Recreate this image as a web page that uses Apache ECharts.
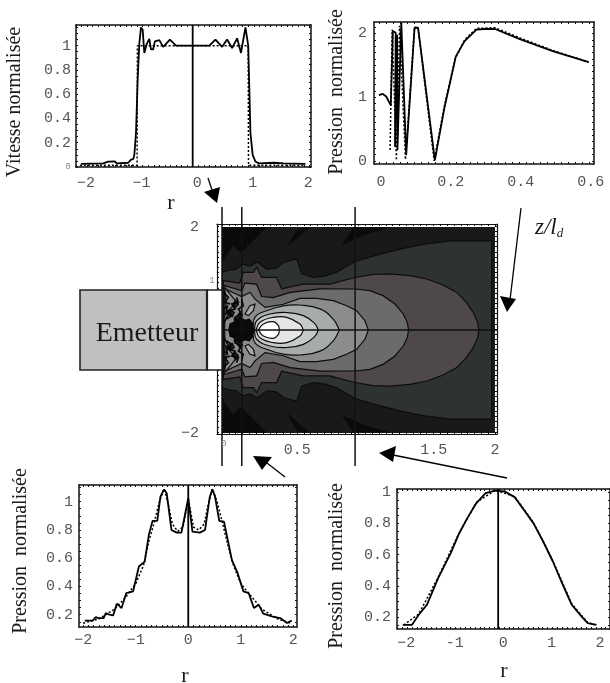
<!DOCTYPE html>
<html>
<head>
<meta charset="utf-8">
<style>html,body{margin:0;padding:0;background:#fff;overflow:hidden}#c{width:610px;height:683px}</style>
<script src="https://cdn.jsdelivr.net/npm/echarts@6/dist/echarts.min.js"></script>
</head>
<body>
<div id="c"></div>
<script>
// ---- Panel A: vitesse normalisée vs r
const velocitySolid=[[-2.01,.025],[-1.61,.03],[-1.52,.045],[-1.40,.047],[-1.37,.03],[-1.16,.035],[-1.11,.06],[-1.07,.065],[-1.05,.10],[-1.02,.28],[-.99,.72],[-.96,1.02],[-.93,1.15],[-.90,1.13],[-.87,.94],[-.83,1.01],[-.78,1.055],[-.75,.97],[-.71,.97],[-.68,1.035],[-.60,1.045],[-.53,.99],[-.41,1.05],[-.30,1],[.30,1],[.41,1.05],[.53,.99],[.62,1.05],[.71,.98],[.80,1.06],[.87,.94],[.95,1.15],[1.0,1.0],[1.04,.28],[1.08,.10],[1.13,.045],[1.19,.03],[1.46,.035],[1.49,.047],[1.64,.03],[2.03,.025]];
const velocityDotted=[[-2.03,.015],[-1.0,.015],[-.995,1],[1.0,1],[1.005,.015],[2.03,.015]];
// ---- Panel B: pression sur l'axe vs z
const axialSolid=[[0,1.03],[.011,1.05],[.021,1.01],[.034,.87],[.040,2.04],[.048,2.01],[.046,.22],[.052,1.98],[.053,.17],[.064,2.17],[.078,.09],[.102,2.09],[.112,2.09],[.160,.01],[.188,.85],[.220,1.64],[.245,1.88],[.279,2.06],[.303,2.07],[.332,2.07],[.403,1.91],[.499,1.72],[.600,1.55]];
const axialDotted=[[.032,.17],[.038,2.06],[.050,.01],[.059,2.12],[.076,.02],[.102,2.1],[.112,2.08],[.158,.0],[.186,.83],[.218,1.6],[.245,1.9],[.279,2.08],[.332,2.09],[.403,1.93],[.499,1.73],[.600,1.55]];
// ---- Panel C: pression radiale en champ proche
const nearSolid=[[-1.97,.158],[-1.82,.158],[-1.76,.184],[-1.72,.176],[-1.61,.176],[-1.57,.212],[-1.50,.20],[-1.43,.195],[-1.36,.278],[-1.27,.247],[-1.18,.353],[-1.05,.365],[-.94,.541],[-.83,.576],[-.75,.765],[-.68,.864],[-.59,.864],[-.53,1.035],[-.46,1.087],[-.41,1.059],[-.32,.80],[-.22,.781],[-.13,.781],[0,1.024],[.08,.788],[.22,.781],[.32,.80],[.41,1.035],[.46,1.087],[.51,1.035],[.59,.864],[.68,.859],[.83,.588],[.94,.494],[1.05,.365],[1.15,.353],[1.25,.247],[1.34,.271],[1.43,.207],[1.59,.188],[1.75,.176],[1.88,.141],[1.97,.158]];
const nearDotted=[[-2,.14],[-1.7,.17],[-1.4,.24],[-1.2,.32],[-1,.42],[-.85,.55],[-.75,.72],[-.65,.85],[-.55,1],[-.46,1.09],[-.38,.98],[-.3,.84],[-.2,.79],[-.1,.82],[0,1.02],[.1,.82],[.2,.8],[.3,.84],[.38,.98],[.46,1.09],[.55,1],[.65,.85],[.75,.70],[.85,.56],[1,.42],[1.2,.33],[1.4,.24],[1.7,.17],[1.95,.14]];
// ---- Panel D: pression radiale en champ lointain
const farSolid=[[-1.99,.151],[-1.80,.151],[-1.66,.215],[-1.49,.28],[-1.26,.45],[-1.0,.61],[-.84,.727],[-.67,.827],[-.47,.93],[-.28,.994],[-.08,1.01],[.12,1.004],[.32,.968],[.51,.887],[.71,.80],[.91,.684],[1.11,.556],[1.30,.418],[1.50,.279],[1.70,.205],[1.83,.162],[2.01,.151]];
const farDotted=[[-1.97,.15],[-1.66,.22],[-1.26,.455],[-.84,.73],[-.47,.935],[-.08,1.012],[.32,.972],[.71,.805],[1.11,.56],[1.50,.285],[1.83,.165],[2.0,.15]];
// ---- Tick labels
const ticksA={x:[-2,-1,0,1,2],xText:['\u22122','\u22121','0','1','2'],y:[0,.2,.4,.6,.8,1],yText:['{t|0}','0.2','0.4','0.6','0.8','1']};
const ticksB={x:[0,.2,.4,.6],xText:['0','0.2','0.4','0.6'],y:[0,1,2],yText:['0','1','2']};
const ticksC={x:[-2,-1,0,1,2],xText:['\u22122','\u22121','0','1','2'],y:[.2,.4,.6,.8,1],yText:['0.2','0.4','0.6','0.8','1']};
const ticksD={x:[-2,-1,0,1,2],xText:['\u22122','-1','0','1','2'],y:[.2,.4,.6,.8,1],yText:['0.2','0.4','0.6','0.8','1']};
const ticksMap={x:[.5,1.5,2],xText:['{p|0.5}','{p|1.5}','2'],y:[-2,2],yText:['\u22122','2']};
// ---- Contour map: upper half of each level, (z, r); the field is symmetric about r = 0
const level1=[[0,1.12],[.05,1.16],[.107,1.18],[.15,1.28],[.205,1.24],[.26,1.32],[.327,1.18],[.40,1.2],[.449,1.31],[.547,1.38],[.584,1.09],[.669,1.02],[.76,1.05],[.84,1.12],[.974,1.33],[1.14,1.46],[1.303,1.57],[1.47,1.66],[1.67,1.73],[1.975,1.73]];
const level2=[[.01,.96],[.13,.91],[.156,1.12],[.23,1.12],[.254,1.22],[.29,1.02],[.40,1.02],[.437,.80],[.596,.89],[.79,.89],[.974,1.02],[1.108,1.08],[1.23,1.09],[1.377,1.055],[1.50,.99],[1.62,.874],[1.72,.73],[1.79,.537],[1.84,.343],[1.873,.149],[1.882,0]];
const level3=[[.01,.87],[.144,.76],[.168,.91],[.254,.89],[.29,.65],[.376,.63],[.50,.73],[.718,.80],[.974,.796],[1.084,.764],[1.18,.667],[1.267,.505],[1.328,.311],[1.357,.149],[1.367,0]];
const level4=[[.02,.80],[.144,.65],[.205,.73],[.242,.60],[.315,.44],[.449,.50],[.571,.615],[.693,.615],[.815,.57],[.913,.472],[.986,.375],[1.047,.18],[1.072,0]];
const level5=[[.225,0],[.242,.25],[.327,.375],[.449,.47],[.571,.485],[.718,.41],[.815,.21],[.86,0]];
const level6=[[.237,0],[.254,.18],[.352,.31],[.474,.34],[.596,.28],[.681,.12],[.706,0]];
const level7=[[.249,0],[.278,.15],[.376,.246],[.474,.246],[.571,.117],[.596,0]];
const level8=[[.266,0],[.303,.117],[.376,.162],[.413,.084],[.42,0]];
const levels=[level1,level2,level3,level4,level5,level6,level7,level8];
const darkPatches=[
 [[0,1.31],[.03,1.44],[.08,1.64],[.14,1.5],[.18,1.6],[.33,2],[0,2]],
 [[.47,1.6],[.55,1.96],[.645,2]],
 [[.877,1.65],[.962,1.99],[1.23,1.99],[1.06,1.86]]
];
const coreBlob=[[.05,0],[.06,.12],[.09,.15],[.09,.22],[.13,.24],[.17,.19],[.2,.21],[.225,.12],[.23,0]];
const greyCells=[
 [[.02,.83],[.107,.54],[.034,.34]],
 [[.168,.31],[.205,.47],[.242,.50],[.23,.375],[.193,.28]]
];
const tangleCells=[
 [[.05,.3],[.07,.38],[.09,.34],[.075,.26]],
 [[.08,.5],[.1,.58],[.12,.5],[.1,.44]],
 [[.11,.27],[.13,.34],[.15,.28],[.13,.22]]
];
const tangleLines=[
 [[.034,.214],[.071,.278],[.046,.375],[.095,.408],[.071,.505],[.12,.537],[.107,.634]],
 [[.083,.084],[.12,.18],[.095,.246],[.144,.31],[.12,.408],[.156,.47],[.144,.60]],
 [[.01,.73],[.046,.634],[.022,.537],[.059,.505]],
 [[.01,.408],[.039,.46],[.029,.31],[.059,.356],[.015,.15]]
];
const sections=[0,.145,.975];

const BLACK='#111';
const LABEL='#555';
const MONO='"Liberation Mono","DejaVu Sans Mono",monospace';
const SERIF='"Liberation Serif","DejaVu Serif",serif';
const bandFill=['#2f3330','#4e474c','#6b6b6b','#8b8d8b','#a8aca8','#c6cac6','#e4e6e4','#ffffff'];

function steps(min,max,st){const o=[];for(let k=Math.ceil(min/st-1e-9);k*st<=max+1e-9;k++)o.push(+(k*st).toFixed(4));return o;}
const grid=[],xAxis=[],yAxis=[],series=[];
function lab(vals,texts,margin,shift){
  return {show:true,customValues:vals,margin,color:LABEL,fontFamily:MONO,fontSize:15,hideOverlap:false,
    showMinLabel:true,showMaxLabel:true,padding:shift?[0,0,0,shift*2]:0,
    formatter:v=>{let b=0;vals.forEach((t,i)=>{if(Math.abs(t-v)<Math.abs(vals[b]-v))b=i});return texts[b]},
    rich:{t:{fontSize:9,fontFamily:MONO,color:'#888'},p:{fontSize:15,fontFamily:MONO,color:LABEL,padding:[0,0,0,14]}}};
}
function addPanel(box,xr,yr,xst,yst,t,mx,my,lw,shift){
  const i=grid.length;
  grid.push({left:box[0],top:box[1],width:box[2],height:box[3],show:false});
  const line={show:true,onZero:false,lineStyle:{color:BLACK,width:lw||1.5}};
  const tk=(v)=>({show:true,inside:true,length:2,customValues:v,lineStyle:{color:BLACK,width:1}});
  const xv=steps(xr[0],xr[1],xst),yv=steps(yr[0],yr[1],yst);
  ['bottom','top'].forEach((p,k)=>xAxis.push({type:'value',gridIndex:i,position:p,min:xr[0],max:xr[1],axisLine:line,axisTick:tk(xv),splitLine:{show:false},
    axisLabel:k===0&&t?lab(t.x,t.xText,mx,shift):{show:false}}));
  ['left','right'].forEach((p,k)=>yAxis.push({type:'value',gridIndex:i,position:p,min:yr[0],max:yr[1],axisLine:line,axisTick:tk(yv),splitLine:{show:false},
    axisLabel:k===0&&t?lab(t.y,t.yText,my):{show:false}}));
  return i*2;
}
function addLine(ax,data,dotted,z){
  series.push({type:'line',xAxisIndex:ax,yAxisIndex:ax,data,showSymbol:false,symbol:'none',smooth:false,z:z||3,animation:false,
    lineStyle:{color:'#000',width:dotted?1.5:1.8,type:dotted?[2,2]:'solid'}});
}
const a=addPanel([76,25,235,142],[-2.1,2.13],[0,1.17],.1,.05,ticksA,9,5,1.5,4.5);
addLine(a,velocityDotted,true);addLine(a,velocitySolid,false);addLine(a,[[0,0],[0,1.17]],false);
const b=addPanel([374,22,220,142],[-.014,.615],[-.05,2.18],.02,.1,ticksB,11,7,1.5,2);
addLine(b,axialDotted,true);addLine(b,axialSolid,false);
const c=addPanel([79,485,218,142],[-2.08,2.07],[.113,1.118],.1,.05,ticksC,6,6);
addLine(c,nearDotted,true);addLine(c,nearSolid,false);addLine(c,[[0,.113],[0,1.118]],false);
const d=addPanel([397,489,223,140],[-2.11,2.29],[.124,1.02],.1,.05,ticksD,7,6,1.5,4);
addLine(d,farDotted,true);addLine(d,farSolid,false);addLine(d,[[-.02,.124],[-.02,1.02]],false);

// Frame of the contour map
addPanel([217,224,280,210],[-.037,2.015],[-2.04,2.04],.05,.1,null,0,0,1.2);
// Contour map itself
const mi=grid.length;
grid.push({left:222,top:227,width:273,height:206,show:true,backgroundColor:'#191919',borderWidth:0});
xAxis.push({type:'value',gridIndex:mi,min:0,max:2,axisLine:{show:false,onZero:false},axisTick:{show:false},splitLine:{show:false},axisLabel:lab(ticksMap.x,ticksMap.xText,10)});
yAxis.push({type:'value',gridIndex:mi,min:-2,max:2,axisLine:{show:false,onZero:false},axisTick:{show:false},splitLine:{show:false},axisLabel:lab(ticksMap.y,ticksMap.yText,23)});
const mapAx=xAxis.length-1;

const closed=p=>p.concat(p.slice().reverse().map(q=>[q[0],-q[1]]));
const flip=p=>p.map(q=>[q[0],-q[1]]);
const shapes=[];
const both=(p,o)=>{shapes.push(Object.assign({p},o));shapes.push(Object.assign({p:flip(p)},o));};
darkPatches.forEach(p=>both(p,{fill:'#0a0a0a',stroke:'transparent'}));
levels.forEach((l,i)=>shapes.push({p:closed(l),fill:bandFill[i],stroke:'#0c0c0c',smooth:i>=4?.45:0}));
greyCells.forEach((p,i)=>both(p,{fill:i===0?'#8b8d8b':'#a8aca8',stroke:'#0c0c0c'}));
tangleCells.forEach(p=>both(p,{fill:'#222',stroke:'#050505'}));
tangleLines.forEach(p=>both(p,{line:true,stroke:'#050505',lw:1.6}));
shapes.push({p:closed(coreBlob),fill:'#0a0a0a',stroke:'#050505'});
series.push({type:'custom',xAxisIndex:mapAx,yAxisIndex:mapAx,z:2,animation:false,silent:true,clip:true,
  data:shapes.map((s,i)=>[i]),encode:{x:-1,y:-1},
  renderItem:(params,api)=>{const s=shapes[params.dataIndex];const pts=s.p.map(q=>api.coord(q));
    if(s.line)return {type:'polyline',shape:{points:pts},style:{fill:null,stroke:s.stroke,lineWidth:s.lw}};
    return {type:'polygon',shape:{points:pts,smooth:s.smooth||0},style:{fill:s.fill,stroke:s.stroke,lineWidth:s.lw||1.2}};}});
sections.forEach(z=>series.push({type:'line',xAxisIndex:mapAx,yAxisIndex:mapAx,data:[[z,2.39],[z,-2.64]],showSymbol:false,symbol:'none',clip:false,z:6,animation:false,lineStyle:{color:'#111',width:1.5}}));
series.push({type:'line',xAxisIndex:mapAx,yAxisIndex:mapAx,data:[[-.015,0],[2.138,0]],showSymbol:false,symbol:'none',clip:false,z:6,animation:false,lineStyle:{color:'#111',width:1.5}});

function txt(x,y,s,size,rot){return {type:'text',z:100,x,y,rotation:rot||0,
  style:{text:s,fill:'#1a1a1a',font:`${size}px ${SERIF}`,textAlign:'center',textVerticalAlign:'middle'}};}
function arrow(x1,y1,x2,y2,head){return [
  {type:'line',z:100,shape:{x1,y1,x2,y2},style:{stroke:'#000',lineWidth:1.3}},
  {type:'polygon',z:100,shape:{points:head},style:{fill:'#000'}}];}
const graphic=[
  {type:'rect',z:90,shape:{x:207,y:290,width:15,height:80},style:{fill:'#fff',stroke:'#222',lineWidth:1.4}},
  {type:'rect',z:91,shape:{x:80,y:290,width:127,height:80},style:{fill:'#c0c0c0',stroke:'#222',lineWidth:1.6}},
  {type:'line',z:92,shape:{x1:207,y1:290,x2:207,y2:370},style:{stroke:'#222',lineWidth:2.2}},
  txt(147,334,'Emetteur',28),
  txt(15,102,'Vitesse normalisée',20,Math.PI/2),
  txt(337,92,'Pression  normalisée',20,Math.PI/2),
  txt(21,551,'Pression  normalisée',20,Math.PI/2),
  txt(337,566,'Pression  normalisée',20,Math.PI/2),
  txt(171,203,'r',22),txt(185,676,'r',22),txt(504,671,'r',22),
  {type:'text',z:100,x:535,y:215,style:{rich:{a:{font:`italic 23px ${SERIF}`,fill:'#1a1a1a'},b:{font:`italic 13px ${SERIF}`,fill:'#1a1a1a',verticalAlign:'bottom',padding:[12,0,0,0]}},text:'{a|z/l}{b|d}'}},
  {type:'text',z:100,x:212,y:281,style:{text:'1',fill:'#888',font:`9px ${MONO}`,textAlign:'center',textVerticalAlign:'middle'}},
  {type:'text',z:100,x:224,y:444,style:{text:'0',fill:'#888',font:`9px ${MONO}`,textAlign:'center',textVerticalAlign:'middle'}},
  ...arrow(208,178,213,193,[[204,192],[220,187],[217,203]]),
  ...arrow(521,208,510,300,[[500,296],[516,299],[507,312]]),
  ...arrow(285,477,267,463,[[253,456],[272,457],[262,470]]),
  ...arrow(507,478,393,455,[[379,453],[396,446],[393,462]])
];
const chart=echarts.init(document.getElementById('c'),null,{renderer:'canvas'});
chart.setOption({animation:false,backgroundColor:'#fff',grid,xAxis,yAxis,series,graphic});
</script>
</body>
</html>
